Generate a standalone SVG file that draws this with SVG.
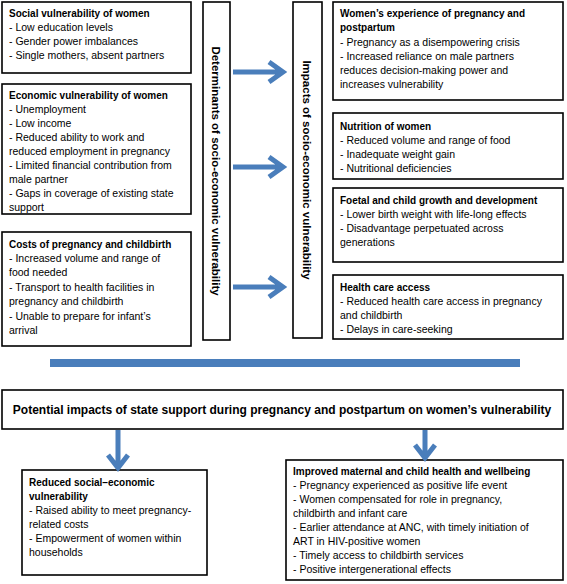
<svg xmlns="http://www.w3.org/2000/svg" width="567" height="584" viewBox="0 0 567 584">
<style>
.box{fill:#fff;stroke:#000;stroke-width:1.6}
text{font-family:"Liberation Sans",Arial,sans-serif;font-size:10.5px;fill:#000}
.h{font-weight:bold;font-size:10px}
.v{font-weight:bold;font-size:11.5px}
.t{font-weight:bold;font-size:12px}
.arr{fill:none;stroke:#4a7ebb;stroke-width:5}
</style>
<rect width="567" height="584" fill="#fff"/>
<g id="social">
<rect class="box" x="2" y="2" width="189" height="71"/>
<text x="9" y="17" class="h">Social vulnerability of women</text>
<text x="9" y="31">- Low education levels</text>
<text x="9" y="45">- Gender power imbalances</text>
<text x="9" y="59">- Single mothers, absent partners</text>
</g>
<g id="economic">
<rect class="box" x="2" y="84" width="189" height="130"/>
<text x="9" y="99" class="h">Economic vulnerability of women</text>
<text x="9" y="113">- Unemployment</text>
<text x="9" y="127">- Low income</text>
<text x="9" y="141">- Reduced ability to work and</text>
<text x="9" y="155">reduced employment in pregnancy</text>
<text x="9" y="169">- Limited financial contribution from</text>
<text x="9" y="183">male partner</text>
<text x="9" y="197">- Gaps in coverage of existing state</text>
<text x="9" y="211">support</text>
</g>
<g id="costs">
<rect class="box" x="2" y="232" width="189" height="114"/>
<text x="9" y="248" class="h">Costs of pregnancy and childbirth</text>
<text x="9" y="262">- Increased volume and range of</text>
<text x="9" y="276">food needed</text>
<text x="9" y="291">- Transport to health facilities in</text>
<text x="9" y="305">pregnancy and childbirth</text>
<text x="9" y="320">- Unable to prepare for infant’s</text>
<text x="9" y="334">arrival</text>
</g>
<g id="determinants">
<rect class="box" x="203" y="2" width="27" height="338"/>
<text class="v" transform="translate(212,171) rotate(90)" text-anchor="middle">Determinants of socio-economic vulnerability</text>
</g>
<g id="impacts">
<rect class="box" x="293" y="2" width="29" height="336"/>
<text class="v" transform="translate(303,170) rotate(90)" text-anchor="middle">Impacts of socio-economic vulnerability</text>
</g>
<g id="experience">
<rect class="box" x="333" y="2" width="230" height="98"/>
<text x="340" y="17" class="h">Women’s experience of pregnancy and</text>
<text x="340" y="31" class="h">postpartum</text>
<text x="340" y="46">- Pregnancy as a disempowering crisis</text>
<text x="340" y="60">- Increased reliance on male partners</text>
<text x="340" y="74">reduces decision-making power and</text>
<text x="340" y="88">increases vulnerability</text>
</g>
<g id="nutrition">
<rect class="box" x="333" y="113" width="230" height="66"/>
<text x="340" y="130" class="h">Nutrition of women</text>
<text x="340" y="144">- Reduced volume and range of food</text>
<text x="340" y="158">- Inadequate weight gain</text>
<text x="340" y="172">- Nutritional deficiencies</text>
</g>
<g id="foetal">
<rect class="box" x="333" y="188" width="230" height="74"/>
<text x="340" y="204" class="h">Foetal and child growth and development</text>
<text x="340" y="218">- Lower birth weight with life-long effects</text>
<text x="340" y="232">- Disadvantage perpetuated across</text>
<text x="340" y="246">generations</text>
</g>
<g id="healthcare">
<rect class="box" x="333" y="275" width="230" height="64"/>
<text x="340" y="291" class="h">Health care access</text>
<text x="340" y="305">- Reduced health care access in pregnancy</text>
<text x="340" y="319">and childbirth</text>
<text x="340" y="333">- Delays in care-seeking</text>
</g>
<g id="divider">
<rect x="50" y="359" width="470" height="8" fill="#4a7ebb"/>
</g>
<g id="potential">
<rect class="box" x="2" y="390" width="561" height="39"/>
<text x="282" y="414" class="t" text-anchor="middle">Potential impacts of state support during pregnancy and postpartum on women’s vulnerability</text>
</g>
<g id="reduced">
<rect class="box" x="22" y="470" width="185" height="105"/>
<text x="29" y="486" class="h">Reduced social–economic</text>
<text x="29" y="500" class="h">vulnerability</text>
<text x="29" y="514">- Raised ability to meet pregnancy-</text>
<text x="29" y="528">related costs</text>
<text x="29" y="542">- Empowerment of women within</text>
<text x="29" y="556">households</text>
</g>
<g id="improved">
<rect class="box" x="286" y="460" width="277" height="120"/>
<text x="293" y="475" class="h">Improved maternal and child health and wellbeing</text>
<text x="293" y="489">- Pregnancy experienced as positive life event</text>
<text x="293" y="503">- Women compensated for role in pregnancy,</text>
<text x="293" y="517">childbirth and infant care</text>
<text x="293" y="531">- Earlier attendance at ANC, with timely initiation of</text>
<text x="293" y="545">ART in HIV-positive women</text>
<text x="293" y="559">- Timely access to childbirth services</text>
<text x="293" y="573">- Positive intergenerational effects</text>
</g>
<g id="connectors">
<path class="arr" d="M233 72H282M269 62L283 72L269 82"/>
<path class="arr" d="M233 167H282M269 157L283 167L269 177"/>
<path class="arr" d="M233 287H282M269 277L283 287L269 297"/>
<path class="arr" d="M118 430V467M108 455L118 468L128 455"/>
<path class="arr" d="M425 430V457M415 445L425 458L435 445"/>
</g>
</svg>
